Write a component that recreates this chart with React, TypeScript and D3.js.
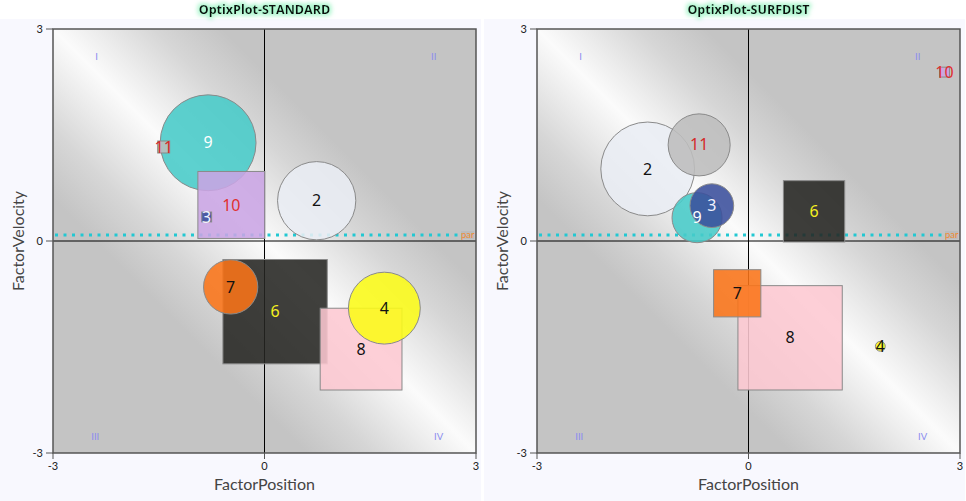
import React from "react";
import * as d3 from "d3";

// axis setup shared by both panels
const axisDomain: [number, number] = [-3, 3];
const axisTicks = [-3, 0, 3];
const quadrantNames = ["I", "II", "III", "IV"];
const thresholdValue = 0.085;
const thresholdLabel = "par";

// OptixPlot-STANDARD
const stdIds = ["9", "11", "10", "3", "2", "6", "7", "8", "4"];
const stdX = [-0.8, -1.43, -0.47, -0.82, 0.74, 0.15, -0.48, 1.37, 1.7];
const stdY = [1.39, 1.33, 0.51, 0.34, 0.57, -1.0, -0.65, -1.53, -0.95];
const stdSize = [1.36, 0.17, 0.95, 0.14, 1.11, 1.48, 0.77, 1.16, 1.02];
const stdShape = ["circle", "square", "square", "square", "circle", "square", "circle", "square", "circle"];

// OptixPlot-SURFDIST
const sdIds = ["2", "11", "9", "3", "6", "8", "7", "4", "10"];
const sdX = [-1.43, -0.7, -0.73, -0.52, 0.93, 0.59, -0.16, 1.87, 2.78];
const sdY = [1.02, 1.36, 0.33, 0.5, 0.42, -1.37, -0.74, -1.49, 2.39];
const sdSize = [1.33, 0.88, 0.71, 0.62, 0.87, 1.48, 0.67, 0.14, 0.14];
const sdShape = ["circle", "circle", "circle", "circle", "square", "square", "square", "circle", "square"];

const fillById: Record<string, string> = {
  "2": "#e9edf4",
  "3": "#3a4f9c",
  "4": "#fcfc18",
  "6": "#252622",
  "7": "#fb7418",
  "8": "#fdc8d2",
  "9": "#47cbc8",
  "10": "#caa4e4",
  "11": "#bdbdbd",
};
const labelColorById: Record<string, string> = {
  "2": "#111",
  "3": "#f2f2ff",
  "4": "#111",
  "6": "#f4f020",
  "7": "#111",
  "8": "#111",
  "9": "#ffffff",
  "10": "#e03030",
  "11": "#d42a2a",
};

const W = 966;
const H = 501;
const panelW = 483;
const plotLeft = 53;
const plotRight = 476;
const plotTop = 29;
const plotBottom = 453;

const axisFont = "Lato, 'Noto Sans', sans-serif";

// where the quadrant names sit, in axis units
const quadPos = [
  [-2.38, 2.56],
  [2.4, 2.56],
  [-2.4, -2.82],
  [2.47, -2.82],
];

function Panel({ idx, title, ids, xs, ys, sizes, shapes }: any) {
  const ox = idx * panelW + (idx === 1 ? 1 : 0);
  const x = d3.scaleLinear().domain(axisDomain).range([plotLeft, plotRight]);
  const y = d3.scaleLinear().domain(axisDomain).range([plotBottom, plotTop]);
  const unit = x(1) - x(0);
  const pw = plotRight - plotLeft;
  const ph = plotBottom - plotTop;
  return (
    <g transform={`translate(${ox},0)`}>
      <rect x={0} y={19} width={panelW - 2} height={H - 19} fill="#f8f8fe" />
      <text
        x={x(0)}
        y={14}
        textAnchor="middle"
        fontFamily="'Open Sans', sans-serif"
        fontWeight="bold"
        fontSize={12.5}
        fill="#111"
        filter="url(#glow)"
      >
        {title}
      </text>
      <rect x={plotLeft} y={plotTop} width={pw} height={ph} fill="url(#bg)" />
      {/* threshold dotted line */}
      <line
        x1={plotLeft + 2}
        x2={plotRight - 14}
        y1={y(thresholdValue)}
        y2={y(thresholdValue)}
        stroke="#22c8d2"
        strokeWidth={3}
        strokeDasharray="3,5.5"
      />
      <rect x={plotRight - 15} y={y(thresholdValue) - 4} width={13} height={8} fill="#bcbcbc" />
      <text x={plotRight - 15} y={y(thresholdValue) + 3} fontSize={9.5} fontFamily={axisFont} fill="#f08a30">
        {thresholdLabel}
      </text>
      {/* zero axes */}
      <line x1={x(0)} x2={x(0)} y1={plotTop} y2={plotBottom} stroke="#000" strokeWidth={1} />
      <line x1={plotLeft} x2={plotRight} y1={y(0)} y2={y(0)} stroke="#000" strokeWidth={1} />
      {/* quadrant names */}
      {quadrantNames.map((q, i) => (
        <text
          key={q}
          x={x(quadPos[i][0])}
          y={y(quadPos[i][1])}
          textAnchor="middle"
          fontSize={9.5}
          fontFamily={axisFont}
          fill="#8a8cf0"
        >
          {q}
        </text>
      ))}
      {/* marks */}
      {ids.map((id: string, i: number) => {
        const cx = x(xs[i]);
        const cy = y(ys[i]);
        const s = sizes[i] * unit;
        return shapes[i] === "circle" ? (
          <circle key={id} cx={cx} cy={cy} r={s / 2} fill={fillById[id]} fillOpacity={0.88} stroke="#8a8a8a" strokeWidth={1} />
        ) : (
          <rect
            key={id}
            x={cx - s / 2}
            y={cy - s / 2}
            width={s}
            height={s}
            fill={fillById[id]}
            fillOpacity={0.88}
            stroke="#8a8a8a"
            strokeWidth={1}
          />
        );
      })}
      {ids.map((id: string, i: number) => (
        <text
          key={"l" + id}
          x={x(xs[i])}
          y={y(ys[i])}
          dy="0.35em"
          textAnchor="middle"
          fontSize={16}
          fontFamily="'Noto Sans', sans-serif"
          fill={labelColorById[id]}
        >
          {id}
        </text>
      ))}
      {/* frame */}
      <rect x={plotLeft} y={plotTop} width={pw} height={ph} fill="none" stroke="#555" strokeWidth={1.5} />
      {/* ticks */}
      {axisTicks.map((t) => (
        <g key={"y" + t}>
          <line x1={plotLeft - 7} x2={plotLeft} y1={y(t)} y2={y(t)} stroke="#555" />
          <text x={plotLeft - 10} y={y(t)} dy="0.35em" textAnchor="end" fontSize={11} fontFamily={axisFont} fill="#222">
            {t}
          </text>
        </g>
      ))}
      {axisTicks.map((t) => (
        <g key={"x" + t}>
          <line x1={x(t)} x2={x(t)} y1={plotBottom} y2={plotBottom + 6} stroke="#555" />
          <text x={x(t)} y={plotBottom + 17} textAnchor="middle" fontSize={11} fontFamily={axisFont} fill="#222">
            {t}
          </text>
        </g>
      ))}
      <text x={x(0)} y={490} textAnchor="middle" fontSize={16} fontFamily={axisFont} fill="#444">
        FactorPosition
      </text>
      <text
        transform={`translate(24,${y(0)}) rotate(-90)`}
        textAnchor="middle"
        fontSize={16}
        fontFamily={axisFont}
        fill="#444"
      >
        FactorVelocity
      </text>
    </g>
  );
}

export default function App() {
  return (
    <svg width={W} height={H} style={{ position: "absolute", left: 0, top: 0, background: "#fff" }}>
      <defs>
        <linearGradient id="bg" x1="0" y1="1" x2="1" y2="0">
          <stop offset="0" stopColor="#c4c4c4" />
          <stop offset="0.3" stopColor="#c4c4c4" />
          <stop offset="0.38" stopColor="#d6d6d6" />
          <stop offset="0.45" stopColor="#ececec" />
          <stop offset="0.5" stopColor="#fbfbfb" />
          <stop offset="0.55" stopColor="#ececec" />
          <stop offset="0.62" stopColor="#d6d6d6" />
          <stop offset="0.7" stopColor="#c4c4c4" />
          <stop offset="1" stopColor="#c4c4c4" />
        </linearGradient>
        <filter id="glow" x="-20%" y="-60%" width="140%" height="220%">
          <feMorphology in="SourceAlpha" operator="dilate" radius="1.5" result="d" />
          <feGaussianBlur in="d" stdDeviation="2" result="b" />
          <feFlood floodColor="#7af0b0" floodOpacity="0.6" />
          <feComposite in2="b" operator="in" result="g" />
          <feMerge>
            <feMergeNode in="g" />
            <feMergeNode in="SourceGraphic" />
          </feMerge>
        </filter>
      </defs>
      <Panel idx={0} title="OptixPlot-STANDARD" ids={stdIds} xs={stdX} ys={stdY} sizes={stdSize} shapes={stdShape} />
      <Panel idx={1} title="OptixPlot-SURFDIST" ids={sdIds} xs={sdX} ys={sdY} sizes={sdSize} shapes={sdShape} />
    </svg>
  );
}
